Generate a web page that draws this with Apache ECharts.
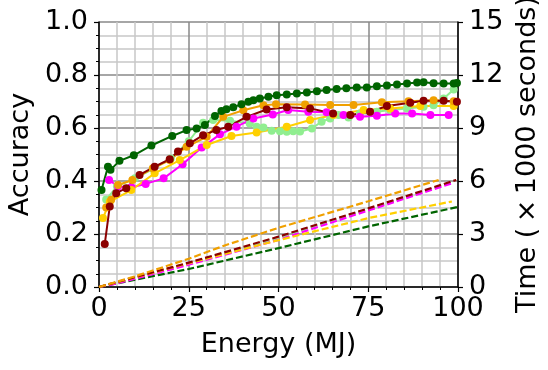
<!DOCTYPE html>
<html lang="en">

<head>
    <meta charset="UTF-8">
    <title>Accuracy / Time vs Energy</title>
    <style>
        html, body {
            margin: 0;
            padding: 0;
            background: #fff;
        }

        #main {
            width: 548px;
            height: 370px;
        }
    </style>
    <script src="https://cdn.jsdelivr.net/npm/echarts@6/dist/echarts.min.js"></script>
</head>

<body>
    <div id="main"></div>

    <script type="text/javascript">
        // 准确率曲线 [能量 MJ, 准确率]
        var accDarkgreen = [[0.7, 0.366], [2.5, 0.454], [3.2, 0.442], [5.7, 0.476], [9.7, 0.497], [14.6, 0.534], [20.4, 0.57],
            [24.4, 0.592], [27.2, 0.598], [29.5, 0.611], [32.3, 0.645], [34.1, 0.664], [35.5, 0.671], [37.4, 0.678],
            [39.7, 0.69], [41.6, 0.699], [43, 0.705], [44.8, 0.711], [47.2, 0.718], [49.5, 0.724], [52.3, 0.726],
            [55.1, 0.73], [57.9, 0.734], [60.7, 0.739], [63.4, 0.743], [66.2, 0.747], [68.9, 0.75], [71.8, 0.753],
            [74.6, 0.753], [77.4, 0.758], [80.2, 0.76], [83, 0.764], [85.8, 0.768], [88.6, 0.772], [90.4, 0.773],
            [93.2, 0.769], [96, 0.768], [98.8, 0.768], [99.7, 0.77]];
        var accLightgreen = [[2, 0.33], [5, 0.38], [10, 0.41], [15, 0.445], [20, 0.485], [25, 0.55], [29, 0.62],
            [31.8, 0.63], [36.5, 0.627], [42, 0.617], [43.9, 0.605], [45.8, 0.602], [48.1, 0.59], [50.4, 0.588],
            [52.3, 0.586], [54.1, 0.588], [56, 0.587], [59.3, 0.598], [62, 0.624], [64.4, 0.636], [66.7, 0.649],
            [69.5, 0.64], [72.7, 0.655], [77.4, 0.661], [81.1, 0.668], [85.8, 0.674], [90.4, 0.68], [93.2, 0.686],
            [96, 0.711], [98.8, 0.745]];
        var accMagenta = [[2.8, 0.404], [5.3, 0.379], [9, 0.376], [13, 0.389], [18, 0.41], [23.3, 0.463], [28.6, 0.526],
            [33.7, 0.576], [38.3, 0.605], [43, 0.636], [48.4, 0.651], [52.7, 0.668], [58.3, 0.661], [63.4, 0.659],
            [68.1, 0.649], [72.7, 0.642], [77.4, 0.646], [82.5, 0.655], [87.2, 0.655], [92.3, 0.649], [97.4, 0.649]];
        var accOrange = [[2, 0.3], [3.4, 0.329], [5.3, 0.385], [9.3, 0.404], [15, 0.448], [19.7, 0.479], [24.4, 0.529],
            [30, 0.567], [34.6, 0.642], [40.2, 0.667], [45.8, 0.686], [49.3, 0.69], [57.4, 0.689], [64.4, 0.687],
            [70.9, 0.687], [78.8, 0.697], [86.2, 0.701], [93.2, 0.705], [98.8, 0.701]];
        var accGold = [[1.1, 0.26], [3, 0.322], [9, 0.366], [15.5, 0.429], [22.5, 0.479], [30, 0.536], [36.9, 0.57],
            [43.9, 0.583], [52.3, 0.605], [58.8, 0.63], [65.3, 0.649], [73.7, 0.668], [81.1, 0.674], [89.5, 0.683],
            [98.8, 0.683]];
        var accDarkred = [[1.6, 0.162], [3, 0.304], [4.8, 0.354], [7.6, 0.373], [11.3, 0.423], [15.5, 0.454],
            [19.7, 0.482], [22, 0.511], [25.3, 0.542], [29, 0.573], [32.7, 0.592], [36, 0.605], [41.1, 0.642],
            [46.7, 0.67], [52.3, 0.678], [58.8, 0.674], [65.2, 0.655], [70, 0.649], [75.5, 0.661], [80.2, 0.683],
            [86.7, 0.695], [90.4, 0.703], [96, 0.703], [99.7, 0.699]];

        // 耗时曲线 [能量 MJ, 时间 ×1000 秒]
        var timeDarkgreen = [[0, 0], [25, 1.02], [50, 2.2], [75, 3.43], [99.7, 4.52]];
        var timeLightgreen = [[0, 0], [25, 1.3], [50, 2.78], [75, 4.42], [98, 5.9]];
        var timeMagenta = [[0, 0], [5, 0.2], [25, 1.26], [50, 2.67], [75, 4.33], [98.3, 5.87]];
        var timeOrange = [[0, 0], [10, 0.6], [25, 1.6], [35, 2.35], [50, 3.35], [75, 4.85], [94.6, 6.06]];
        var timeGold = [[0, 0], [25, 1.35], [50, 2.65], [75, 3.9], [98.3, 4.84]];
        var timeDarkred = [[0, 0], [25, 1.38], [50, 2.85], [75, 4.45], [99.5, 6.06]];

        var xTicks = [0, 25, 50, 75, 100];

        var colors = {
            darkgreen: '#006400',
            lightgreen: '#90ee90',
            magenta: '#ff00ff',
            orange: '#f0a000',
            gold: '#ffd000',
            darkred: '#8b0000'
        };

        var font = 'DejaVu Sans';
        var fs = 27;

        // 实线+圆点：准确率
        function accSeries(name, data, color) {
            return {
                name: name,
                type: 'line',
                yAxisIndex: 0,
                data: data,
                animation: false,
                symbol: 'circle',
                symbolSize: 8,
                showSymbol: true,
                lineStyle: { color: color, width: 2 },
                itemStyle: { color: color }
            };
        }

        // 虚线：时间
        function timeSeries(name, data, color) {
            return {
                name: name,
                type: 'line',
                yAxisIndex: 1,
                data: data,
                animation: false,
                showSymbol: false,
                symbol: 'none',
                lineStyle: { color: color, width: 2.2, type: [7, 3] }
            };
        }

        var option = {
            backgroundColor: '#fff',
            grid: {
                left: 99,
                right: 90,
                top: 22,
                bottom: 83,
                containLabel: false,
                outerBoundsMode: 'none'
            },
            xAxis: {
                type: 'value',
                min: 0,
                max: 100,
                interval: 25,
                name: 'Energy (MJ)',
                nameLocation: 'middle',
                nameGap: 44,
                nameTextStyle: { fontFamily: font, fontSize: fs, color: '#000' },
                axisLine: { onZero: false, lineStyle: { color: '#000', width: 1.5 } },
                axisTick: { show: true, inside: false, length: 5, lineStyle: { color: '#000', width: 1.2 } },
                minorTick: { show: true, splitNumber: 5, length: 3, lineStyle: { color: '#000', width: 1 } },
                axisLabel: {
                    fontFamily: font, fontSize: fs, color: '#000', margin: 8,
                    formatter: function (v) { return xTicks.indexOf(v) >= 0 ? String(v) : ''; }
                },
                splitLine: { show: true, lineStyle: { color: '#888888', width: 1.5 } },
                minorSplitLine: { show: true, lineStyle: { color: '#c8c8c8', width: 1.5 } }
            },
            yAxis: [{
                type: 'value',
                min: 0,
                max: 1,
                interval: 0.2,
                name: 'Accuracy',
                nameLocation: 'middle',
                nameGap: 62,
                nameTextStyle: { fontFamily: font, fontSize: fs, color: '#000' },
                axisLine: { show: true, onZero: false, lineStyle: { color: '#000', width: 1.5 } },
                axisTick: { show: true, length: 5, lineStyle: { color: '#000', width: 1.2 } },
                minorTick: { show: true, splitNumber: 4, length: 3, lineStyle: { color: '#000', width: 1 } },
                axisLabel: {
                    fontFamily: font, fontSize: fs, color: '#000', margin: 11,
                    formatter: function (v) { return v.toFixed(1); }
                },
                splitLine: { show: true, lineStyle: { color: '#888888', width: 1.5 } },
                minorSplitLine: { show: true, lineStyle: { color: '#c8c8c8', width: 1.5 } }
            }, {
                type: 'value',
                min: 0,
                max: 15,
                interval: 3,
                position: 'right',
                name: 'Time (\u2009×\u20091000 seconds)',
                nameLocation: 'middle',
                nameGap: 49,
                nameTextStyle: { fontFamily: font, fontSize: fs, color: '#000' },
                axisLine: { show: true, onZero: false, lineStyle: { color: '#000', width: 1.5 } },
                axisTick: { show: true, length: 5, lineStyle: { color: '#000', width: 1.2 } },
                axisLabel: { fontFamily: font, fontSize: fs, color: '#000', margin: 11 },
                splitLine: { show: false }
            }],
            series: [
                timeSeries('time-darkgreen', timeDarkgreen, colors.darkgreen),
                timeSeries('time-lightgreen', timeLightgreen, colors.lightgreen),
                timeSeries('time-magenta', timeMagenta, colors.magenta),
                timeSeries('time-gold', timeGold, colors.gold),
                timeSeries('time-darkred', timeDarkred, colors.darkred),
                timeSeries('time-orange', timeOrange, colors.orange),
                accSeries('acc-lightgreen', accLightgreen, colors.lightgreen),
                accSeries('acc-magenta', accMagenta, colors.magenta),
                accSeries('acc-gold', accGold, colors.gold),
                accSeries('acc-orange', accOrange, colors.orange),
                accSeries('acc-darkred', accDarkred, colors.darkred),
                accSeries('acc-darkgreen', accDarkgreen, colors.darkgreen)
            ]
        };

        var myChart = echarts.init(document.getElementById('main'));
        myChart.setOption(option);
    </script>
</body>

</html>
